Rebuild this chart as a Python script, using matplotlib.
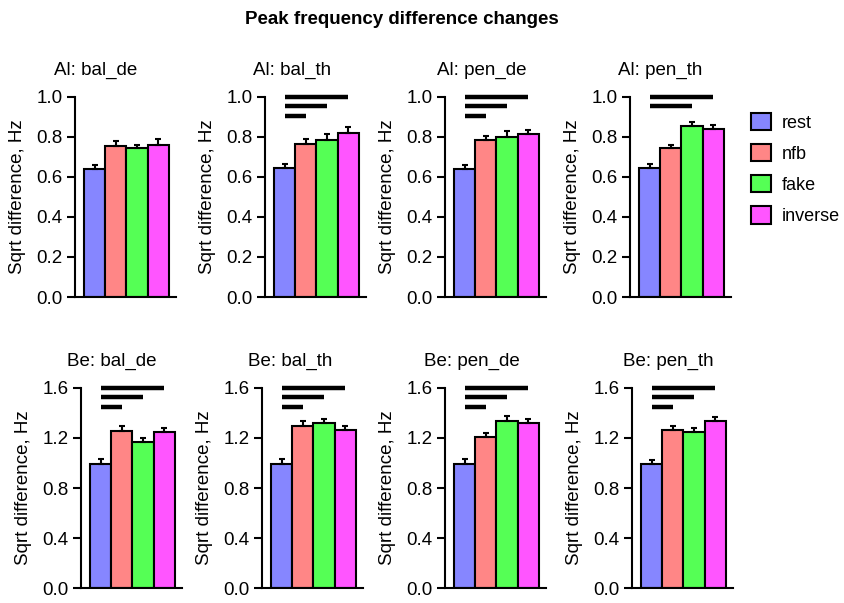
import matplotlib
matplotlib.use("Agg")
import matplotlib.pyplot as plt
from matplotlib.patches import Patch
import numpy as np

plt.rcParams['font.family'] = ['Liberation Sans', 'DejaVu Sans']

# conditions and colours
groups = ['rest', 'nfb', 'fake', 'inverse']
colors = ['#8686ff', '#ff8686', '#55ff55', '#ff55ff']

# panel titles
titles = ['Al: bal_de', 'Al: bal_th', 'Al: pen_de', 'Al: pen_th',
          'Be: bal_de', 'Be: bal_th', 'Be: pen_de', 'Be: pen_th']

# means
al_bal_de = [0.638, 0.752, 0.742, 0.757]
al_bal_th = [0.643, 0.765, 0.785, 0.820]
al_pen_de = [0.640, 0.782, 0.798, 0.815]
al_pen_th = [0.641, 0.741, 0.855, 0.838]
be_bal_de = [0.994, 1.253, 1.165, 1.248]
be_bal_th = [0.994, 1.293, 1.320, 1.266]
be_pen_de = [0.994, 1.208, 1.338, 1.320]
be_pen_th = [0.990, 1.266, 1.248, 1.338]

# standard errors (upper only)
al_bal_de_err = [0.018, 0.026, 0.016, 0.030]
al_bal_th_err = [0.020, 0.024, 0.028, 0.028]
al_pen_de_err = [0.020, 0.021, 0.028, 0.020]
al_pen_th_err = [0.020, 0.019, 0.020, 0.020]
be_bal_de_err = [0.036, 0.040, 0.032, 0.032]
be_bal_th_err = [0.036, 0.045, 0.032, 0.032]
be_pen_de_err = [0.036, 0.032, 0.040, 0.032]
be_pen_th_err = [0.036, 0.032, 0.034, 0.030]

means = [al_bal_de, al_bal_th, al_pen_de, al_pen_th,
         be_bal_de, be_bal_th, be_pen_de, be_pen_th]
errs = [al_bal_de_err, al_bal_th_err, al_pen_de_err, al_pen_th_err,
        be_bal_de_err, be_bal_th_err, be_pen_de_err, be_pen_th_err]

# significant comparisons vs rest (index of other group)
sig = [[], [1, 2, 3], [1, 2, 3], [2, 3],
       [1, 2, 3], [1, 2, 3], [1, 2, 3], [1, 2, 3]]

ymax = [1.0] * 4 + [1.6] * 4
yticks_top = [0.0, 0.2, 0.4, 0.6, 0.8, 1.0]
yticks_bot = [0.0, 0.4, 0.8, 1.2, 1.6]

W, H = 844, 603
fig = plt.figure(figsize=(W / 100, H / 100), dpi=100)

# layout in pixels
spine_x = [75, 265, 445, 630, 81, 262, 445, 632]
axis_y0 = [297] * 4 + [588.3] * 4
title_x = [96, 292, 482, 660, 112, 290, 472, 668]
ax_w, ax_h = 101, 200.5

x = np.arange(4)
for i in range(8):
    ax = fig.add_axes([spine_x[i] / W, (H - axis_y0[i]) / H, ax_w / W, ax_h / H])
    ax.bar(x, means[i], width=1.0, color=colors, edgecolor='black',
           linewidth=1.5, zorder=2)
    ax.errorbar(x, means[i], yerr=[np.zeros(4), errs[i]], fmt='none',
                ecolor='black', elinewidth=1.5, capsize=2.5, capthick=1.5,
                zorder=3)
    step = ymax[i] * 0.048
    for j in sig[i]:
        yy = ymax[i] - (3 - j) * step
        ax.plot([0, j], [yy, yy], color='black', lw=3.2,
                solid_capstyle='butt', clip_on=False, zorder=4)

    ax.set_xlim(-0.92, 3.83)
    ax.set_ylim(0, ymax[i])
    ax.set_yticks(yticks_top if i < 4 else yticks_bot)
    ax.yaxis.set_major_formatter(plt.FormatStrFormatter('%.1f'))
    ax.set_xticks([])
    for s in ['top', 'right']:
        ax.spines[s].set_visible(False)
    for s in ['left', 'bottom']:
        ax.spines[s].set_linewidth(1.5)
    ax.tick_params(axis='y', length=6, width=1.5, pad=3, labelsize=13.5)
    ax.set_ylabel('Sqrt difference, Hz', fontsize=13.5)
    ax.yaxis.set_label_coords(-0.49, 0.5)

    fig.text(title_x[i] / W, (H - (axis_y0[i] - ax_h - 22)) / H, titles[i],
             ha='center', va='baseline', fontsize=13.5)

fig.text(402 / W, 1 - 24 / H, 'Peak frequency difference changes',
         ha='center', va='baseline', fontsize=13.5, fontweight='bold')

handles = [Patch(facecolor=c, edgecolor='black', linewidth=1.5, label=g)
           for g, c in zip(groups, colors)]
fig.legend(handles=handles, loc='upper left',
           bbox_to_anchor=(751 / W, 1 - 113 / H), frameon=False,
           fontsize=13, handlelength=1.1, handleheight=1.1,
           handletextpad=0.6, labelspacing=0.68, borderpad=0,
           borderaxespad=0)

fig.savefig('out.png', dpi=100)
